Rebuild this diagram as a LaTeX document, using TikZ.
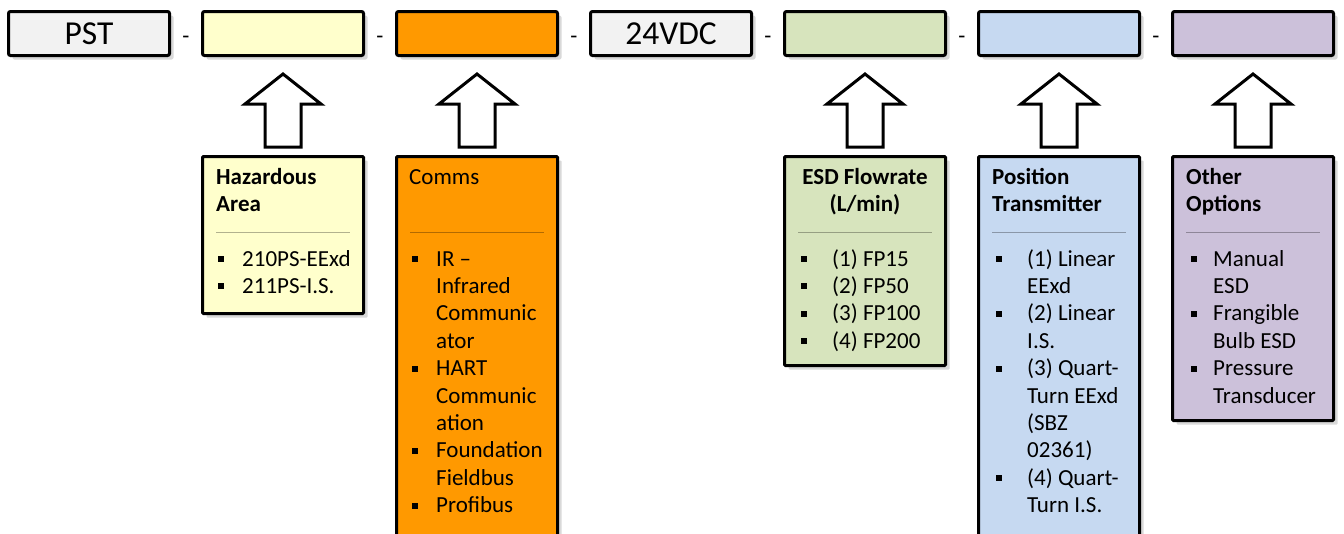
\documentclass[tikz,border=0pt]{standalone}
\usepackage{fontspec}
\setmainfont{Carlito}
\usetikzlibrary{positioning,calc,shadows}
\definecolor{plain}{HTML}{F2F2F2}
\definecolor{hazfill}{HTML}{FFFFCC}
\definecolor{commsfill}{HTML}{FF9900}
\definecolor{esdfill}{HTML}{D7E4BD}
\definecolor{posfill}{HTML}{C6D9F1}
\definecolor{otherfill}{HTML}{CCC1DA}
\newlength\bulw
\setlength\bulw{24pt}
\newcommand\bsq{\makebox[\bulw][l]{\rule[4pt]{6pt}{6pt}}}
\newcommand\bcont{\hspace*{\bulw}}
\tikzset{
  codebox/.style={draw=black,line width=3pt,rounded corners=2pt,minimum width=161pt,
    minimum height=44pt,inner sep=0pt,font=\fontsize{33.5pt}{40pt}\selectfont,
    drop shadow={shadow xshift=4pt,shadow yshift=-4pt,opacity=0.3}},
  optbox/.style={draw=black,line width=3pt,rounded corners=1pt,minimum width=161pt,inner sep=0pt,
    drop shadow={shadow xshift=4pt,shadow yshift=-4pt,opacity=0.3}},
  headtext/.style={anchor=base west,inner sep=0pt,align=left,
    font=\fontsize{23pt}{27.4pt}\selectfont\bfseries},
  listtext/.style={anchor=base west,inner sep=0pt,align=left,
    font=\fontsize{23pt}{27.4pt}\selectfont\setlength\bulw{#1}},
  listtext/.default=24pt,
  sepline/.style={draw=black,opacity=0.3,line width=1pt},
  fatarrow/.style={draw=black,line width=3pt,fill=white,line join=miter},
  dashtext/.style={font=\fontsize{23pt}{27.4pt}\selectfont,inner sep=0pt,yshift=-6pt}
}
\begin{document}
\begin{tikzpicture}[x=1pt,y=1pt]
\useasboundingbox (0,0) rectangle (1344,-533);
\clip (0,0) rectangle (1344,-533);
% part code along the top
\node[codebox,fill=plain] (pst) at (89,-33.5) {PST};
\node[codebox,fill=hazfill,right=30pt of pst] (hazTop) {};
\node[codebox,fill=commsfill,right=30pt of hazTop] (commsTop) {};
\node[codebox,fill=plain,right=30pt of commsTop] (vdc) {24VDC};
\node[codebox,fill=esdfill,right=30pt of vdc] (esdTop) {};
\node[codebox,fill=posfill,right=30pt of esdTop] (posTop) {};
\node[codebox,fill=otherfill,right=30pt of posTop] (otherTop) {};
\foreach \a/\b [count=\i] in {pst/hazTop,hazTop/commsTop,commsTop/vdc,vdc/esdTop,esdTop/posTop,posTop/otherTop}
  \node[dashtext] (d\i) at ($(\a.east)!0.5!(\b.west)$) {-};
% option boxes
\node[optbox,fill=hazfill,minimum height=157pt,below=98pt of hazTop] (hazBox) {};
\node[optbox,fill=commsfill,minimum height=387pt,below=98pt of commsTop] (commsBox) {};
\node[optbox,fill=esdfill,minimum height=209pt,below=98pt of esdTop] (esdBox) {};
\node[optbox,fill=posfill,minimum height=387pt,below=98pt of posTop] (posBox) {};
\node[optbox,fill=otherfill,minimum height=264pt,below=98pt of otherTop] (otherBox) {};
\foreach \n in {haz,comms,esd,pos,other}{
  \draw[fatarrow] ($(\n Top.south)+(0,-17)$) -- ++(38,-30) -- ++(-20,0)
    |- ($(\n Box.north)+(-18,8)$) -- ++(0,43) -- ++(-20,0) -- cycle;
  \draw[sepline] ($(\n Box.north west)+(15,-77)$) -- ($(\n Box.north east)+(-15,-77)$);
}
% headings (base = last line)
\node[headtext] (hazHead) at ($(hazBox.north west)+(15,-56.4)$) {Hazardous\\Area};
\node[listtext] (commsHead) at ($(commsBox.north west)+(14,-29)$) {Comms};
\node[headtext,anchor=base,align=center] (esdHead) at ($(esdBox.north)+(0,-56.4)$) {ESD Flowrate\\(L/min)};
\node[headtext] (posHead) at ($(posBox.north west)+(15,-56.4)$) {Position\\Transmitter};
\node[headtext] (otherHead) at ($(otherBox.north west)+(15,-56.4)$) {Other\\Options};
% option lists
\node[listtext] (hazList) at ($(hazBox.north west)+(17,-138.4)$)
  {\bsq 210PS-EExd\\\bsq 211PS-I.S.};
\node[listtext] (commsList) at ($(commsBox.north west)+(17,-357.6)$)
  {\bsq IR –\\\bcont Infrared\\\bcont Communic\\\bcont ator\\\bsq HART\\\bcont Communic\\\bcont ation\\\bsq Foundation\\\bcont Fieldbus\\\bsq Profibus};
\node[listtext=31pt] (esdList) at ($(esdBox.north west)+(18,-193.2)$)
  {\bsq (1) FP15\\\bsq (2) FP50\\\bsq (3) FP100\\\bsq (4) FP200};
\node[listtext=31pt] (posList) at ($(posBox.north west)+(19,-357.6)$)
  {\bsq (1) Linear\\\bcont EExd\\\bsq (2) Linear\\\bcont I.S.\\\bsq (3) Quart-\\\bcont Turn EExd\\\bcont (SBZ\\\bcont 02361)\\\bsq (4) Quart-\\\bcont Turn I.S.};
\node[listtext=22pt] (otherList) at ($(otherBox.north west)+(20,-248)$)
  {\bsq Manual\\\bcont ESD\\\bsq Frangible\\\bcont Bulb ESD\\\bsq Pressure\\\bcont Transducer};
\end{tikzpicture}
\end{document}
